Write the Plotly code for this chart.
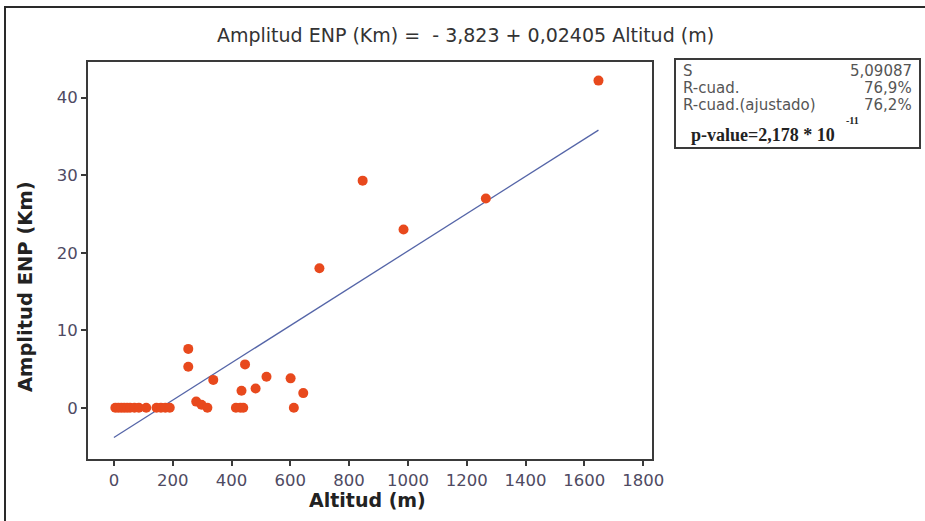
import plotly.graph_objects as go

# ---- data ----
altitud = [5, 15, 25, 35, 45, 55, 70, 85, 110, 145, 160, 175, 190,
           253, 253, 280, 298, 318, 338, 415, 430, 440, 434, 446, 482,
           519, 601, 612, 644, 699, 846, 985, 1265, 1648]
amplitud = [0, 0, 0, 0, 0, 0, 0, 0, 0, 0, 0, 0, 0,
            7.6, 5.3, 0.8, 0.4, 0.0, 3.6, 0, 0, 0, 2.2, 5.6, 2.5,
            4.0, 3.8, 0, 1.9, 18.0, 29.3, 23.0, 27.0, 42.2]
intercept = -3.823
slope = 0.02405
fit_x = [0, 1648]
fit_y = [intercept + slope * v for v in fit_x]

x_ticks = [0, 200, 400, 600, 800, 1000, 1200, 1400, 1600, 1800]
y_ticks = [0, 10, 20, 30, 40]

title_text = "Amplitud ENP (Km) =  - 3,823 + 0,02405 Altitud (m)"
stats_labels = ["S", "R-cuad.", "R-cuad.(ajustado)"]
stats_values = ["5,09087", "76,9%", "76,2%"]

W, H = 925, 521
L, R, T, B = 88, 652, 62, 459


def px(x):
    return (x - L) / (R - L)


def py(y):
    return (B - y) / (B - T)


fig = go.Figure()
fig.add_trace(go.Scatter(x=fit_x, y=fit_y, mode="lines",
                         line=dict(color="#5565a8", width=1.3),
                         showlegend=False, hoverinfo="skip"))
fig.add_trace(go.Scatter(x=altitud, y=amplitud, mode="markers",
                         marker=dict(color="#e8491d", size=10),
                         showlegend=False))

axis_common = dict(showline=True, linecolor="#3a3a3a", linewidth=2, mirror=True,
                   ticks="outside", ticklen=5, tickwidth=1.5, tickcolor="#3a3a3a",
                   showgrid=False, zeroline=False,
                   tickfont=dict(family="DejaVu Sans", size=16.5, color="#4e4a62"))

fig.update_xaxes(range=[-88, 1830], tickvals=x_ticks, ticklabelstandoff=0, **axis_common)
fig.update_yaxes(range=[-6.6, 44.6], tickvals=y_ticks, **axis_common)

shapes = [
    # stats box
    dict(type="rect", xref="paper", yref="paper",
         x0=px(675), x1=px(920), y0=py(148), y1=py(59),
         line=dict(color="#3a3a3a", width=2), fillcolor="white", layer="below"),
    # outer frame (left and top)
    dict(type="path", xref="paper", yref="paper",
         path=f"M {px(5)} {py(521)} L {px(5)} {py(7)} L {px(925)} {py(7)}",
         line=dict(color="#2a2a2a", width=2)),
]

annotations = [
    dict(text=title_text, xref="paper", yref="paper", x=px(465), y=py(35),
         showarrow=False, xanchor="center", yanchor="middle",
         font=dict(family="DejaVu Sans", size=19, color="#333333")),
    dict(text="<b>Altitud (m)</b>", xref="paper", yref="paper", x=px(367), y=py(500),
         showarrow=False, xanchor="center", yanchor="middle",
         font=dict(family="DejaVu Sans", size=19, color="#222222")),
    dict(text="<b>Amplitud ENP (Km)</b>", xref="paper", yref="paper", x=px(25), y=py(287),
         showarrow=False, xanchor="center", yanchor="middle", textangle=-90,
         font=dict(family="DejaVu Sans", size=19.5, color="#222222")),
]

rows_y = [71, 88, 105]
for lab, val, yy in zip(stats_labels, stats_values, rows_y):
    annotations.append(dict(text=lab, xref="paper", yref="paper", x=px(681), y=py(yy),
                            showarrow=False, xanchor="left", yanchor="middle",
                            font=dict(family="DejaVu Sans", size=15, color="#555555")))
    annotations.append(dict(text=val, xref="paper", yref="paper", x=px(914), y=py(yy),
                            showarrow=False, xanchor="right", yanchor="middle",
                            font=dict(family="DejaVu Sans", size=15, color="#555555")))

annotations.append(dict(text="<b>p-value=2,178 * 10</b>", xref="paper", yref="paper",
                        x=px(689), y=py(135), showarrow=False, xanchor="left", yanchor="middle",
                        font=dict(family="Liberation Serif", size=18, color="#222222")))
annotations.append(dict(text="<b>-11</b>", xref="paper", yref="paper",
                        x=px(844), y=py(120), showarrow=False, xanchor="left", yanchor="middle",
                        font=dict(family="Liberation Serif", size=10, color="#222222")))

fig.update_layout(width=W, height=H, margin=dict(l=L, r=W - R, t=T, b=H - B),
                  plot_bgcolor="white", paper_bgcolor="white",
                  shapes=shapes, annotations=annotations)

fig.write_html("out.html", config={"displayModeBar": False},
               post_script="document.body.style.margin='0';document.body.style.overflow='hidden';")
